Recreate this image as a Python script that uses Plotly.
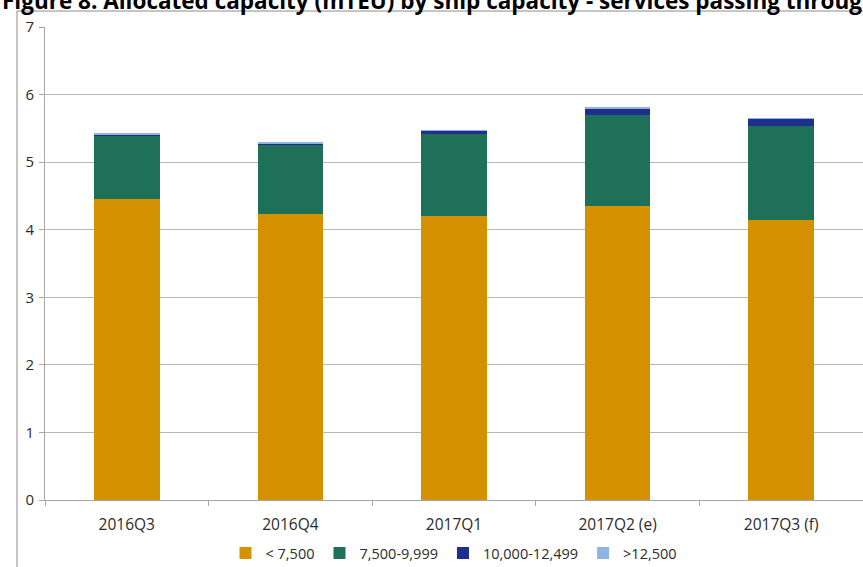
import plotly.graph_objects as go

# Quarterly allocated capacity (million TEU) split by ship size band
quarters = ["2016Q3", "2016Q4", "2017Q1", "2017Q2 (e)", "2017Q3 (f)"]
band_names = ["< 7,500", "7,500-9,999", "10,000-12,499", ">12,500"]
cap_lt_7500 = [4.46, 4.23, 4.21, 4.35, 4.14]
cap_7500_9999 = [0.94, 1.03, 1.20, 1.35, 1.39]
cap_10000_12499 = [0.01, 0.02, 0.06, 0.10, 0.11]
cap_gt_12500 = [0.01, 0.005, 0.005, 0.01, 0.005]
y_ticks = [0, 1, 2, 3, 4, 5, 6, 7]

band_values = [cap_lt_7500, cap_7500_9999, cap_10000_12499, cap_gt_12500]
band_colors = ["#D49200", "#1E7158", "#1F2E8C", "#8DB4E2"]

W, H = 863, 567
L, R, T, B = 45, 0, 27, 67
plot_h = H - T - B
plot_w = W - L - R


def px_to_paper_y(py):
    return (H - B - py) / plot_h


def px_to_paper_x(px):
    return (px - L) / plot_w


fig = go.Figure()
for name, vals, col in zip(band_names, band_values, band_colors):
    fig.add_trace(go.Bar(
        x=quarters, y=vals, name=name,
        marker=dict(color=col, line=dict(width=0)),
        width=0.4,
    ))

font_family = "Open Sans, Liberation Sans, sans-serif"
text_col = "#2b2b2b"

fig.update_layout(
    width=W, height=H,
    barmode="stack",
    margin=dict(l=L, r=R, t=T, b=B, autoexpand=False),
    paper_bgcolor="white",
    plot_bgcolor="white",
    font=dict(family=font_family, size=15, color=text_col),
    showlegend=True,
    legend=dict(
        orientation="h",
        x=0.5, xanchor="center",
        y=px_to_paper_y(553), yanchor="middle",
        font=dict(size=14.5, color=text_col),
        itemwidth=30,
        traceorder="normal",
    ),
    xaxis=dict(
        showline=True, linecolor="#a6a6a6", linewidth=1,
        ticks="outside", tickson="boundaries", ticklen=5, tickcolor="#a6a6a6",
        ticklabelstandoff=10,
        showgrid=False,
        tickfont=dict(size=15.5, color=text_col),
    ),
    yaxis=dict(
        range=[0, 7],
        tickvals=y_ticks,
        showline=True, linecolor="#a6a6a6", linewidth=1,
        ticks="outside", ticklen=5, tickcolor="#a6a6a6",
        ticklabelstandoff=2,
        showgrid=True, gridcolor="#b7b7b7", gridwidth=1,
        zeroline=False,
        tickfont=dict(size=15, color=text_col),
    ),
    shapes=[
        dict(
            type="rect", xref="paper", yref="paper",
            x0=px_to_paper_x(17), x1=px_to_paper_x(900),
            y0=px_to_paper_y(600), y1=px_to_paper_y(11),
            line=dict(color="#8c8c8c", width=1),
            fillcolor="rgba(0,0,0,0)",
            layer="below",
        )
    ],
    annotations=[
        dict(
            text="<b>Figure 8: Allocated capacity (mTEU) by ship capacity - services passing through</b>",
            xref="paper", yref="paper",
            x=px_to_paper_x(0), xanchor="left",
            y=px_to_paper_y(18), yanchor="bottom",
            showarrow=False,
            font=dict(family=font_family, size=22.5, color="#000000"),
        )
    ],
)

fig.write_html("out.html")
